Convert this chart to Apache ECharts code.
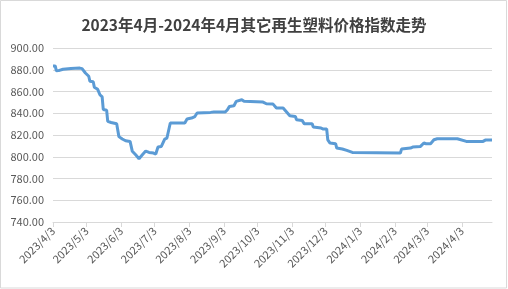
<!DOCTYPE html>
<html>
<head>
<meta charset="utf-8">
<script src="https://cdn.jsdelivr.net/npm/echarts@6/dist/echarts.min.js"></script>
<style>
html,body{margin:0;padding:0;background:#fff;}
#c{width:508px;height:289px;}
</style>
</head>
<body>
<div id="c"></div>
<script>
const titleText = '2023年4月-2024年4月其它再生塑料价格指数走势';
const axisStart = '2023/4/3';
const axisEnd = '2024/4/30';
const yTicks = [740, 760, 780, 800, 820, 840, 860, 880, 900];

const dates = [
 '2023/4/3','2023/4/5','2023/4/6','2023/4/8','2023/4/12','2023/4/19','2023/4/27','2023/4/29',
 '2023/5/2','2023/5/5','2023/5/6','2023/5/9','2023/5/10','2023/5/13','2023/5/15','2023/5/17',
 '2023/5/18','2023/5/21','2023/5/22','2023/5/25','2023/5/30','2023/6/1','2023/6/4','2023/6/7',
 '2023/6/11','2023/6/13','2023/6/16','2023/6/19','2023/6/22','2023/6/25','2023/6/28','2023/7/2',
 '2023/7/4','2023/7/6','2023/7/9','2023/7/12','2023/7/14','2023/7/17','2023/7/30','2023/8/1',
 '2023/8/5','2023/8/8','2023/8/10','2023/8/22','2023/8/25','2023/9/4','2023/9/6','2023/9/8',
 '2023/9/12','2023/9/14','2023/9/19','2023/9/21','2023/10/8','2023/10/11','2023/10/17','2023/10/20',
 '2023/10/26','2023/11/1','2023/11/6','2023/11/7','2023/11/12','2023/11/14','2023/11/21','2023/11/22',
 '2023/11/29','2023/12/1','2023/12/4','2023/12/5','2023/12/7','2023/12/12','2023/12/13','2023/12/18',
 '2023/12/22','2023/12/27','2023/12/28','2024/2/8','2024/2/9','2024/2/17','2024/2/19','2024/2/26',
 '2024/2/29','2024/3/2','2024/3/6','2024/3/9','2024/3/12','2024/3/30','2024/3/31','2024/4/7',
 '2024/4/22','2024/4/24','2024/4/30'
];
const values = [
 883.5, 883.5, 879.0, 879.2, 880.5, 881.2, 881.5, 881.0,
 877.0, 874.0, 869.5, 869.0, 864.0, 862.0, 857.0, 855.0,
 843.5, 842.8, 832.5, 831.5, 830.3, 818.5, 816.3, 814.7,
 814.1, 805.0, 801.8, 798.2, 801.8, 805.2, 804.0, 803.4,
 802.5, 808.9, 809.5, 816.3, 817.2, 831.0, 831.0, 834.7,
 835.6, 837.0, 840.2, 840.8, 841.1, 841.1, 843.0, 846.3,
 846.9, 850.9, 852.4, 851.0, 850.3, 848.7, 848.4, 844.8,
 844.8, 837.7, 837.1, 834.0, 833.4, 830.3, 830.3, 827.3,
 826.4, 825.5, 825.5, 815.6, 812.6, 812.0, 808.0, 807.1,
 805.8, 804.0, 803.4, 803.4, 807.1, 808.0, 808.9, 809.5,
 812.6, 812.0, 812.0, 815.6, 816.5, 816.5, 815.3, 814.1,
 814.1, 815.3, 815.3
];

function toUTC(s){ const p = s.split('/').map(Number); return Date.UTC(p[0], p[1]-1, p[2]); }
function fmt(t){ const d = new Date(t); return d.getUTCFullYear()+'/'+(d.getUTCMonth()+1)+'/'+d.getUTCDate(); }
const DAY = 86400000;
const t0 = toUTC(axisStart), t1 = toUTC(axisEnd);
const categories = [];
for (let t = t0; t <= t1; t += DAY) categories.push(fmt(t));
const seriesData = dates.map((d, i) => [Math.round((toUTC(d) - t0) / DAY), values[i]]);
const monthTick = (idx, val) => val.endsWith('/3');

const chart = echarts.init(document.getElementById('c'), null, {renderer: 'canvas'});
chart.setOption({
  animation: false,
  backgroundColor: '#fff',
  title: {
    text: titleText,
    left: 'center',
    top: 12,
    textStyle: {fontSize: 15.5, fontWeight: 'bold', color: '#404040', fontFamily: 'Noto Sans CJK SC'}
  },
  graphic: [{
    type: 'rect',
    shape: {x: 0.5, y: 0.5, width: 506, height: 287.5},
    style: {fill: 'none', stroke: '#d9d9d9', lineWidth: 1},
    silent: true
  }],
  grid: {left: 53, right: 16, top: 48, bottom: 67},
  xAxis: {
    type: 'category',
    data: categories,
    boundaryGap: false,
    axisLine: {lineStyle: {color: '#d9d9d9'}},
    axisTick: {show: true, interval: monthTick, length: 5, lineStyle: {color: '#d9d9d9'}},
    axisLabel: {interval: monthTick, rotate: 45, fontSize: 11, color: '#595959', margin: 7, fontFamily: 'Noto Sans CJK SC'},
    splitLine: {show: false}
  },
  yAxis: {
    type: 'value',
    min: yTicks[0],
    max: yTicks[yTicks.length - 1],
    interval: yTicks[1] - yTicks[0],
    axisLine: {show: false},
    axisTick: {show: false},
    axisLabel: {formatter: v => v.toFixed(2), fontSize: 11, color: '#595959', margin: 9, fontFamily: 'Noto Sans CJK SC'},
    splitLine: {lineStyle: {color: '#d9d9d9'}}
  },
  series: [{
    type: 'line',
    data: seriesData,
    showSymbol: false,
    symbol: 'none',
    lineStyle: {color: '#5B9BD5', width: 3},
    itemStyle: {color: '#5B9BD5'}
  }]
});
</script>
</body>
</html>
